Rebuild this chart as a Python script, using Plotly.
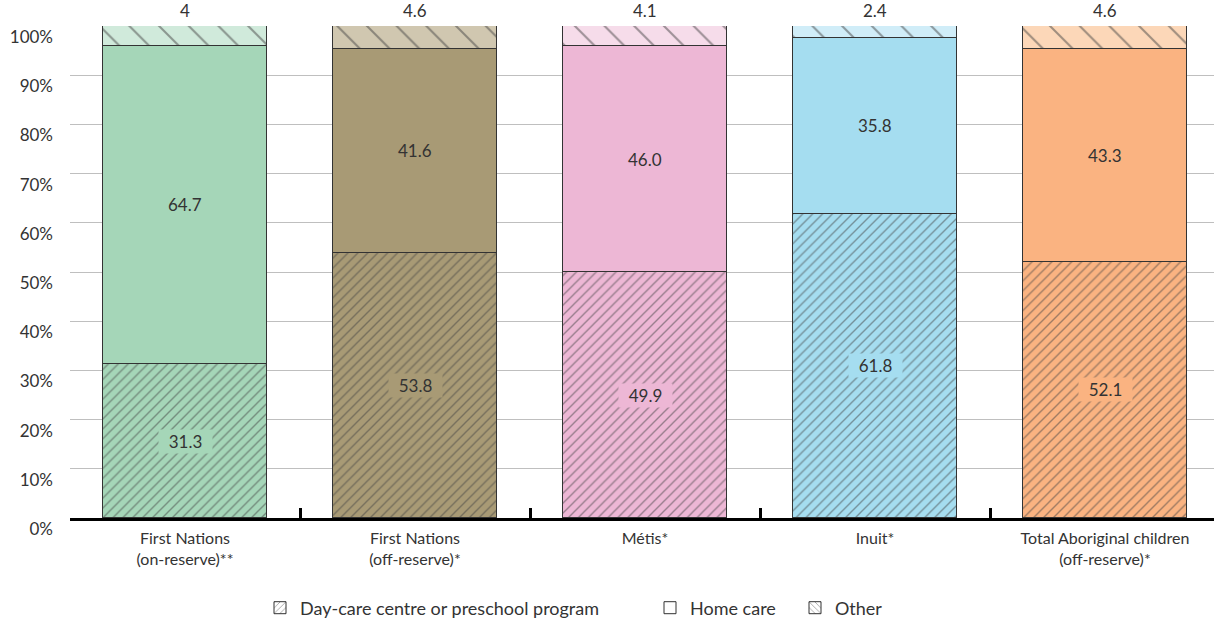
import plotly.graph_objects as go

categories = ["First Nations<br>(on-reserve)**", "First Nations<br>(off-reserve)*",
              "Métis*", "Inuit*", "Total Aboriginal children<br>(off-reserve)*"]
daycare = [31.3, 53.8, 49.9, 61.8, 52.1]
homecare = [64.7, 41.6, 46.0, 35.8, 43.3]
other = [4.0, 4.6, 4.1, 2.4, 4.6]
other_labels = ["4", "4.6", "4.1", "2.4", "4.6"]
y_ticks = [0, 10, 20, 30, 40, 50, 60, 70, 80, 90, 100]
y_tick_labels = [f"{t}%" for t in y_ticks]

main_colors = ["#A5D6B8", "#A89A75", "#EDB7D5", "#A5DDF0", "#FAB381"]
light_colors = ["#D0EADB", "#D0C7B0", "#F6DCEA", "#D0EDF8", "#FCD7B8"]
line_col = "#333333"
txt_col = "#333333"
FONT = "Lato, Open Sans, sans-serif"
W = 0.717

FIG_W, FIG_H = 1214, 622
plot_left, plot_top, plot_bottom = 70, 26, 518
plot_w = FIG_W - plot_left

fig = go.Figure()
fig.add_trace(go.Bar(x=categories, y=daycare, width=W, showlegend=False,
                     marker=dict(color=main_colors, line=dict(color=line_col, width=1.5),
                                 pattern=dict(shape="/", fgcolor=line_col, size=7, solidity=0.2,
                                              fillmode="overlay"))))
fig.add_trace(go.Bar(x=categories, y=homecare, width=W, showlegend=False,
                     marker=dict(color=main_colors, line=dict(color=line_col, width=1.5))))
fig.add_trace(go.Bar(x=categories, y=other, width=W, showlegend=False,
                     marker=dict(color=light_colors, line=dict(color=line_col, width=1.5),
                                 pattern=dict(shape="\\", fgcolor="#222222", size=21, solidity=0.1,
                                              fillmode="overlay"))))

# legend entries (separate legends for exact placement)
leg_defs = [("Day-care centre or preschool program", "/", "legend", 280),
            ("Home care", "", "legend2", 670),
            ("Other", "\\", "legend3", 815)]
for name, shape, lg, px in leg_defs:
    fig.add_trace(go.Bar(x=[None], y=[None], name=name, legend=lg, showlegend=True,
                         marker=dict(color="white", line=dict(color=line_col, width=1),
                                     pattern=dict(shape=shape, fgcolor=line_col, size=5, solidity=0.2))))
legend_common = dict(orientation="h", yanchor="middle", y=1 - 608 / FIG_H, xanchor="left",
                     xref="container", yref="container",
                     font=dict(family=FONT, size=18, color=txt_col),
                     bgcolor="rgba(0,0,0,0)", itemwidth=30)
layout_legends = {}
for name, shape, lg, px in leg_defs:
    layout_legends[lg] = dict(legend_common, x=(px - 20) / FIG_W)

annotations = []
for i, c in enumerate(categories):
    annotations.append(dict(x=c, y=daycare[i] / 2, text=f"  {daycare[i]:.1f}  ", showarrow=False,
                            bgcolor=main_colors[i], borderpad=1,
                            font=dict(family=FONT, size=17, color=txt_col)))
    annotations.append(dict(x=c, y=daycare[i] + homecare[i] / 2, text=f"{homecare[i]:.1f}",
                            showarrow=False, font=dict(family=FONT, size=17, color=txt_col)))
    annotations.append(dict(x=c, y=100, text=other_labels[i], showarrow=False, yanchor="bottom",
                            yshift=3, font=dict(family=FONT, size=17, color=txt_col)))

fig.update_layout(
    width=FIG_W, height=FIG_H, barmode="stack", bargap=0,
    margin=dict(l=plot_left, r=0, t=plot_top, b=FIG_H - plot_bottom, autoexpand=False),
    paper_bgcolor="white", plot_bgcolor="white",
    font=dict(family=FONT, color=txt_col),
    annotations=annotations,
    **layout_legends,
)
fig.update_xaxes(range=[-0.5, -0.5 + plot_w / 230], showline=True, linecolor="black", linewidth=3,
                 ticks="inside", tickson="boundaries", ticklen=10, tickwidth=3, tickcolor="black",
                 tickfont=dict(family=FONT, size=16, color=txt_col), ticklabelstandoff=4,
                 showgrid=False, fixedrange=True, automargin=False)
fig.update_yaxes(range=[0, 100], tickvals=y_ticks, ticktext=y_tick_labels, showgrid=True,
                 gridcolor="#BFBFBF", gridwidth=1, zeroline=False, showline=False,
                 tickfont=dict(family=FONT, size=17, color=txt_col), ticklabelstandoff=16,
                 ticklabelshift=11, automargin=False)

fig.write_html("out.html", config={"displayModeBar": False},
               post_script="document.body.style.margin='0';")
